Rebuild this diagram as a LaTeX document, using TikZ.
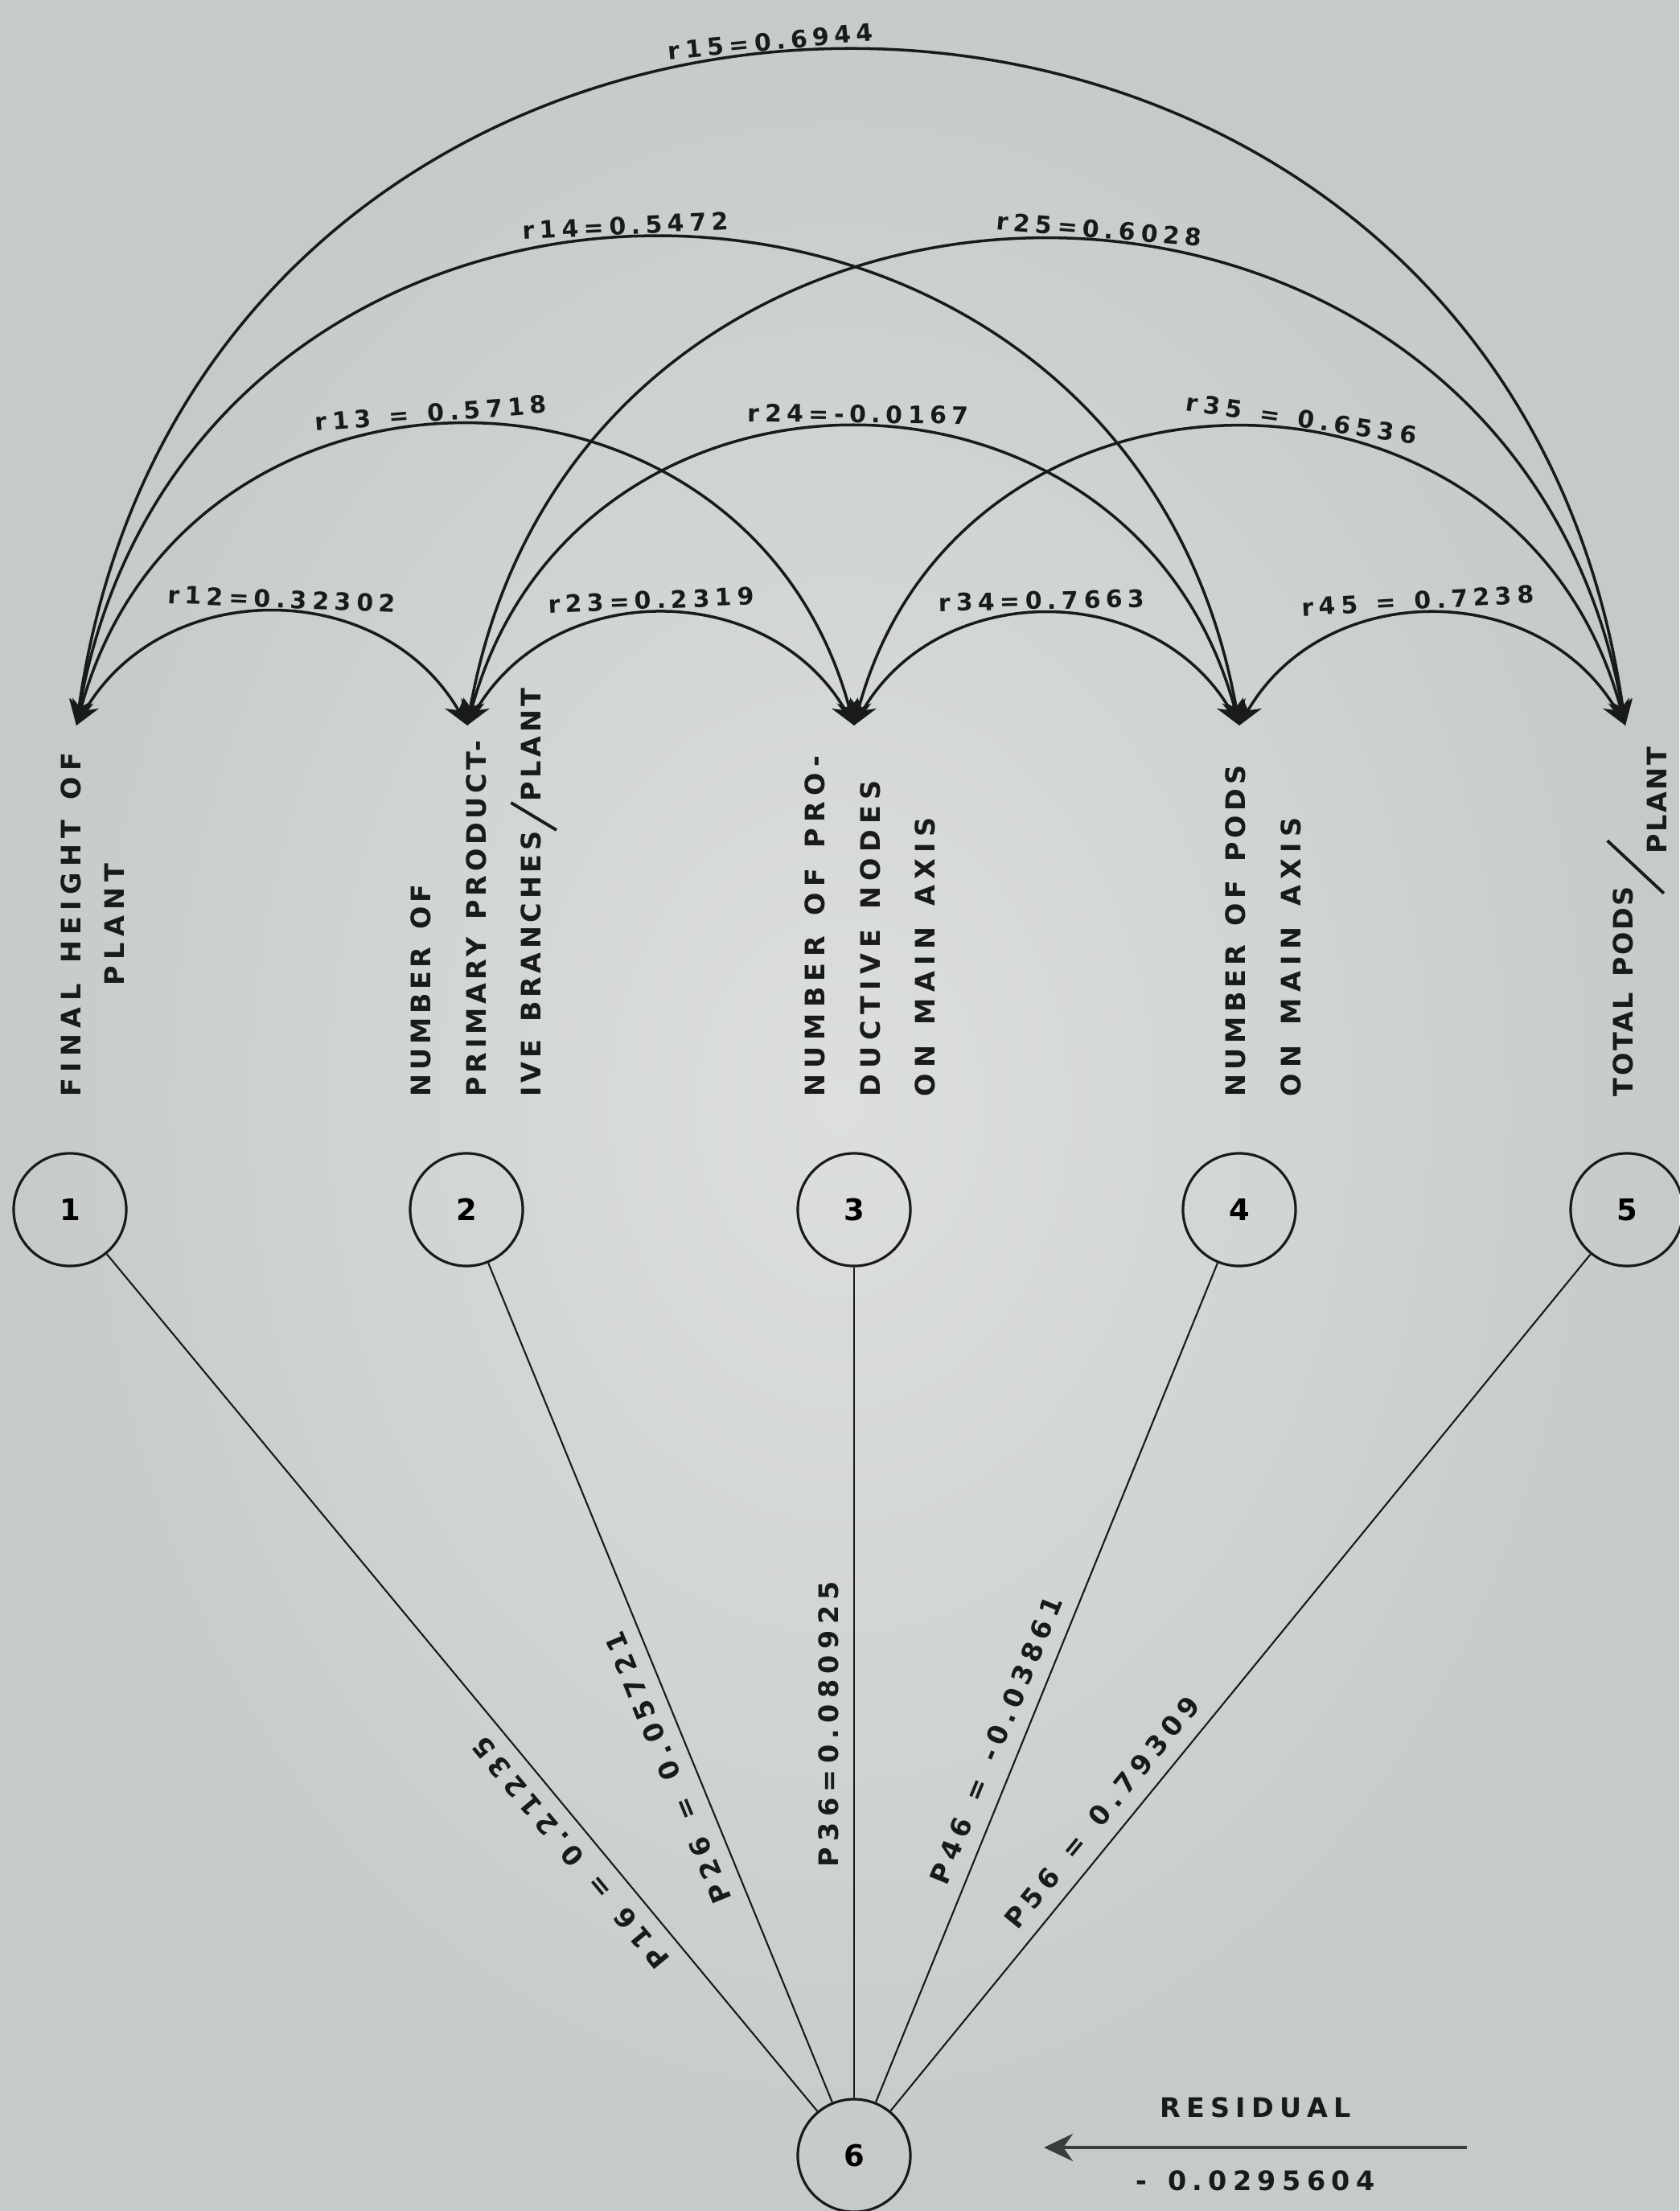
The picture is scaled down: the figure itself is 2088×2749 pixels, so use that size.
\documentclass[tikz,border=0pt]{standalone}
\usepackage{fontspec}
\usepackage{graphicx}
\usetikzlibrary{arrows.meta}

\newfontfamily\lettering{DejaVu Sans}[LetterSpace=22, WordSpace=1.35]
\newfontfamily\letteringtight{DejaVu Sans}[LetterSpace=14, WordSpace=1.35]
\newfontfamily\digitfont{DejaVu Sans}
\definecolor{paper}{RGB}{198,203,202}
\definecolor{paperlight}{RGB}{220,223,221}
\definecolor{ink}{RGB}{24,26,28}

% slanted stroke used in "per plant"
\newcommand{\perstroke}[3]{\raisebox{#3}{\rotatebox{#1}{\rule{#2}{1.1pt}}}}

\tikzset{
  trait/.style={circle, draw=ink, line width=0.9pt, minimum size=1.4cm, inner sep=0pt,
    font=\digitfont\bfseries\fontsize{10.5}{12}\selectfont},
  traitname/.style={rotate=90, anchor=west, inner sep=0pt, text=ink,
    font=\lettering\bfseries\fontsize{9.5}{19.5}\selectfont},
  tightname/.style={traitname, font=\letteringtight\bfseries\fontsize{9.5}{19.5}\selectfont},
  corr/.style={<->, >={Stealth[length=3.2mm,width=2.7mm]}, draw=ink, line width=1pt},
  hop1/.style={out=60, in=120, looseness=1.13},
  hop2/.style={out=75, in=105, looseness=1.36},
  hop3/.style={out=80, in=100, looseness=1.45},
  hop4/.style={out=82, in=98, looseness=1.5},
  corrlabel/.style={sloped, above, inner sep=1.5pt, text=ink,
    font=\lettering\bfseries\fontsize{8.5}{10}\selectfont},
  pathline/.style={draw=ink, line width=0.6pt},
  pathlabel/.style={sloped, allow upside down, above=4pt, inner sep=1pt, text=ink,
    font=\lettering\bfseries\fontsize{9.5}{11}\selectfont},
  resid/.style={-{Stealth[length=3.6mm,width=3.4mm]}, draw=ink!85, line width=1.2pt},
  residlabel/.style={inner sep=3pt, text=ink, font=\lettering\bfseries\fontsize{9.5}{11}\selectfont},
}

\begin{document}
\begin{tikzpicture}[x=0.01cm, y=0.01cm]
  % paper
  \shade[inner color=paperlight, outer color=paper] (0,0) rectangle (2088,-2749);
  \useasboundingbox (0,0) rectangle (2088,-2749);

  % variables
  \node[trait] (v1) at (87,-1504) {1};
  \node[trait] (v2) at (580,-1504) {2};
  \node[trait] (v3) at (1062,-1504) {3};
  \node[trait] (v4) at (1541,-1504) {4};
  \node[trait] (v5) at (2023,-1504) {5};
  \node[trait] (v6) at (1062,-2680) {6};

  % names, read upwards
  \node[traitname, align=center] (n1) at (115,-1364) {FINAL HEIGHT OF\\[-4pt]PLANT};
  \node[tightname, align=left] (n2) at (602,-1364) {NUMBER OF\\PRIMARY PRODUCT-\\IVE BRANCHES\perstroke{59}{0.66cm}{-0.2cm}PLANT};
  \node[traitname, align=left] (n3) at (1082,-1364) {NUMBER OF PRO-\\DUCTIVE NODES\\ON MAIN AXIS};
  \node[traitname, align=left] (n4) at (1571,-1364) {\addfontfeatures{LetterSpace=16}NUMBER OF PODS\\ON MAIN AXIS};
  \node[traitname] (n5) at (2035,-1364) {\addfontfeatures{LetterSpace=8}TOTAL PODS\hspace{-1mm}\perstroke{47}{0.96cm}{-0.395cm}\hspace{-1.8mm}\raisebox{-0.42cm}{PLANT}};

  % arrow ends above the names
  \coordinate (t1) at (95,-902);
  \coordinate (t2) at (581,-902);
  \coordinate (t3) at (1062,-902);
  \coordinate (t4) at (1541,-902);
  \coordinate (t5) at (2021,-902);

  % correlations between neighbours
  \draw[corr, hop1] (t1) to node[corrlabel, pos=0.52] {r12=0.32302} (t2);
  \draw[corr, hop1] (t2) to node[corrlabel, pos=0.48] {r23=0.2319} (t3);
  \draw[corr, hop1] (t3) to node[corrlabel, pos=0.49] {r34=0.7663} (t4);
  \draw[corr, hop1] (t4) to node[corrlabel, pos=0.47] {r45 = 0.7238} (t5);
  % two apart
  \draw[corr, hop2] (t1) to node[corrlabel, pos=0.467] {r13 = 0.5718} (t3);
  \draw[corr, hop2] (t2) to node[corrlabel, pos=0.505] {r24=-0.0167} (t4);
  \draw[corr, hop2] (t3) to node[corrlabel, pos=0.56] {r35 = 0.6536} (t5);
  % three apart
  \draw[corr, hop3] (t1) to node[corrlabel, pos=0.48] {r14=0.5472} (t4);
  \draw[corr, hop3] (t2) to node[corrlabel, pos=0.533] {r25=0.6028} (t5);
  % outermost
  \draw[corr, hop4] (t1) to node[corrlabel, pos=0.463] {r15=0.6944} (t5);

  % path coefficients
  \draw[pathline] (v6) -- node[pathlabel, pos=0.32] {P16 = 0.21235} (v1);
  \draw[pathline] (v6) -- node[pathlabel, pos=0.41] {P26 = 0.05721} (v2);
  \draw[pathline] (v6) -- node[pathlabel, pos=0.45] {P36=0.080925} (v3);
  \draw[pathline] (v6) -- node[pathlabel, pos=0.42] {P46 = -0.03861} (v4);
  \draw[pathline] (v6) -- node[pathlabel, pos=0.33] {P56 = 0.79309} (v5);

  % residual
  \coordinate (rs) at (1824,-2670);
  \coordinate (re) at (1298,-2670);
  \draw[resid] (rs) -- node[residlabel, above=7pt] {RESIDUAL} node[residlabel, below=4.5pt] {- 0.0295604} (re);
\end{tikzpicture}
\end{document}
